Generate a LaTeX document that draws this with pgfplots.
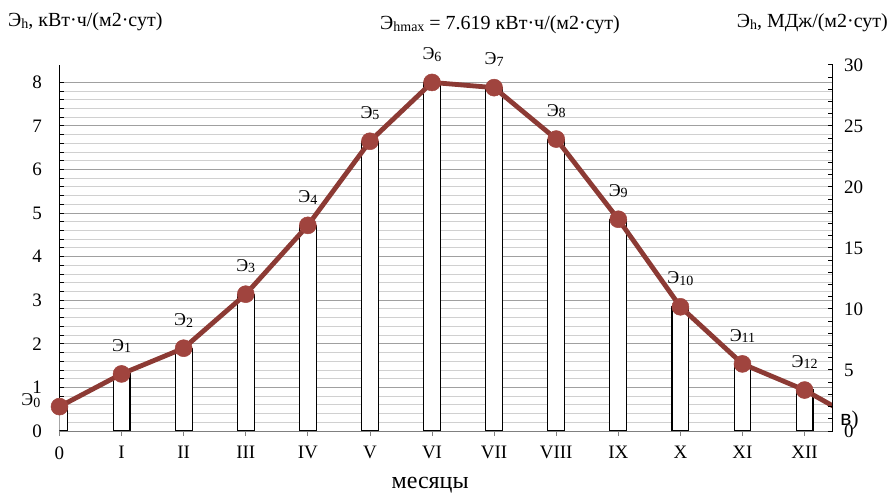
\documentclass[border=0pt]{standalone}
\usepackage{fontspec}
\setmainfont{Liberation Serif}
\newfontfamily\sansf{Liberation Sans}
\usepackage{pgfplots}
\pgfplotsset{compat=1.18}
\definecolor{linered}{RGB}{140,58,52}
\definecolor{markred}{RGB}{160,68,62}
\definecolor{majgrid}{RGB}{160,160,160}
\definecolor{mingrid}{RGB}{208,208,208}
\newcommand\sub[1]{\raisebox{-0.2ex}{\fontsize{14bp}{14bp}\selectfont #1}}
\begin{document}
\begin{tikzpicture}
\path[use as bounding box] (-59.5bp,-66bp) rectangle (833.5bp,431bp);
\begin{axis}[
  at={(0,0)}, anchor=south west,
  scale only axis, width=773bp, height=366bp,
  xmin=0, xmax=12.45, ymin=0, ymax=8.4,
  axis x line*=bottom, axis y line*=left,
  x axis line style={draw=gray, -},
  y axis line style={draw=black, line width=1bp, -},
  xtick={0,...,12},
  xticklabels={0,I,II,III,IV,V,VI,VII,VIII,IX,X,XI,XII},
  x tick style={draw=gray, line width=0.8bp},
  xtick align=outside,
  major tick length=5bp, minor tick length=5bp,
  ytick={0,...,8}, minor y tick num=4,
  ytick align=inside,
  y tick style={draw=black, line width=1bp},
  ymajorgrids, yminorgrids,
  major grid style={draw=majgrid, line width=1bp},
  minor grid style={draw=mingrid, line width=1bp},
  tick label style={font=\fontsize{19bp}{19bp}\selectfont},
  yticklabel style={xshift=-14bp},
  xticklabel style={yshift=-7bp},
  /pgf/number format/assume math mode=true,
  clip mode=individual,
]
% bars
\addplot[ybar, bar width=0.27, bar shift=0pt, fill=white, draw=black, line width=1.1bp]
 coordinates {(0,0.56) (1,1.31) (2,1.90) (3,3.14) (4,4.72) (5,6.65) (6,8.00) (7,7.88) (8,6.70) (9,4.86) (10,2.85) (11,1.54) (12,0.94)};
\draw[gray, line width=1bp] (axis cs:0,0) -- (axis cs:12.45,0);
% tail
\addplot[linered, line width=4.8bp, no marks] coordinates {(12,0.94) (12.55,0.50)};
% main line
\addplot[linered, line width=4.8bp, mark=*, mark size=8.5bp, mark options={fill=markred, draw=markred, line width=0.5bp}]
 coordinates {(0,0.56) (1,1.31) (2,1.90) (3,3.14) (4,4.72) (5,6.65) (6,8.00) (7,7.88) (8,6.70) (9,4.86) (10,2.85) (11,1.54) (12,0.94)};
% labels
\addplot[draw=none, no marks, nodes near coords, point meta=explicit symbolic,
  every node near coord/.style={anchor=south, inner sep=0pt, yshift=21bp, font=\fontsize{18bp}{18bp}\selectfont}]
 coordinates {(1,1.31)[Э\sub{1}] (2,1.90)[Э\sub{2}] (3,3.14)[Э\sub{3}] (4,4.72)[Э\sub{4}] (5,6.65)[Э\sub{5}] (6,8.00)[Э\sub{6}] (7,7.88)[Э\sub{7}] (8,6.70)[Э\sub{8}] (9,4.86)[Э\sub{9}] (10,2.85)[Э\sub{10}] (11,1.54)[Э\sub{11}] (12,0.94)[Э\sub{12}]};
\node[anchor=east, inner sep=0pt, font=\fontsize{18bp}{18bp}\selectfont] at (axis cs:0,0.56) [xshift=-19bp, yshift=6bp] {Э\sub{0}};
\node[font=\fontsize{24bp}{24bp}\selectfont] at (axis cs:5.97,0) [yshift=-54bp] {месяцы};
\end{axis}
\begin{axis}[
  at={(0,0)}, anchor=south west,
  scale only axis, width=773bp, height=366bp,
  xmin=0, xmax=12.45, ymin=0, ymax=30,
  axis x line=none, axis y line*=right,
  y axis line style={draw=black, line width=1bp, -},
  ytick={0,5,...,30}, minor y tick num=4,
  ytick align=inside,
  major tick length=5bp, minor tick length=5bp,
  y tick style={draw=black, line width=1bp},
  tick label style={font=\fontsize{19bp}{19bp}\selectfont},
  yticklabel style={xshift=8bp},
  /pgf/number format/assume math mode=true,
]
\end{axis}
\node[anchor=west, inner sep=0pt, font=\fontsize{20bp}{20bp}\selectfont] at (-51.5bp,409bp) {Э\sub{h}, кВт·ч/(м2·сут)};
\node[inner sep=0pt, font=\fontsize{20bp}{20bp}\selectfont] at (440.5bp,406bp) {Э\sub{hmax} = 7.619 кВт·ч/(м2·сут)};
\node[anchor=east, inner sep=0pt, font=\fontsize{20bp}{20bp}\selectfont] at (828.5bp,408bp) {Э\sub{h}, МДж/(м2·сут)};
\node[inner sep=0pt, font=\fontsize{21bp}{21bp}\selectfont] at (790bp,11bp) {{\sansf в})};
\end{tikzpicture}
\end{document}
